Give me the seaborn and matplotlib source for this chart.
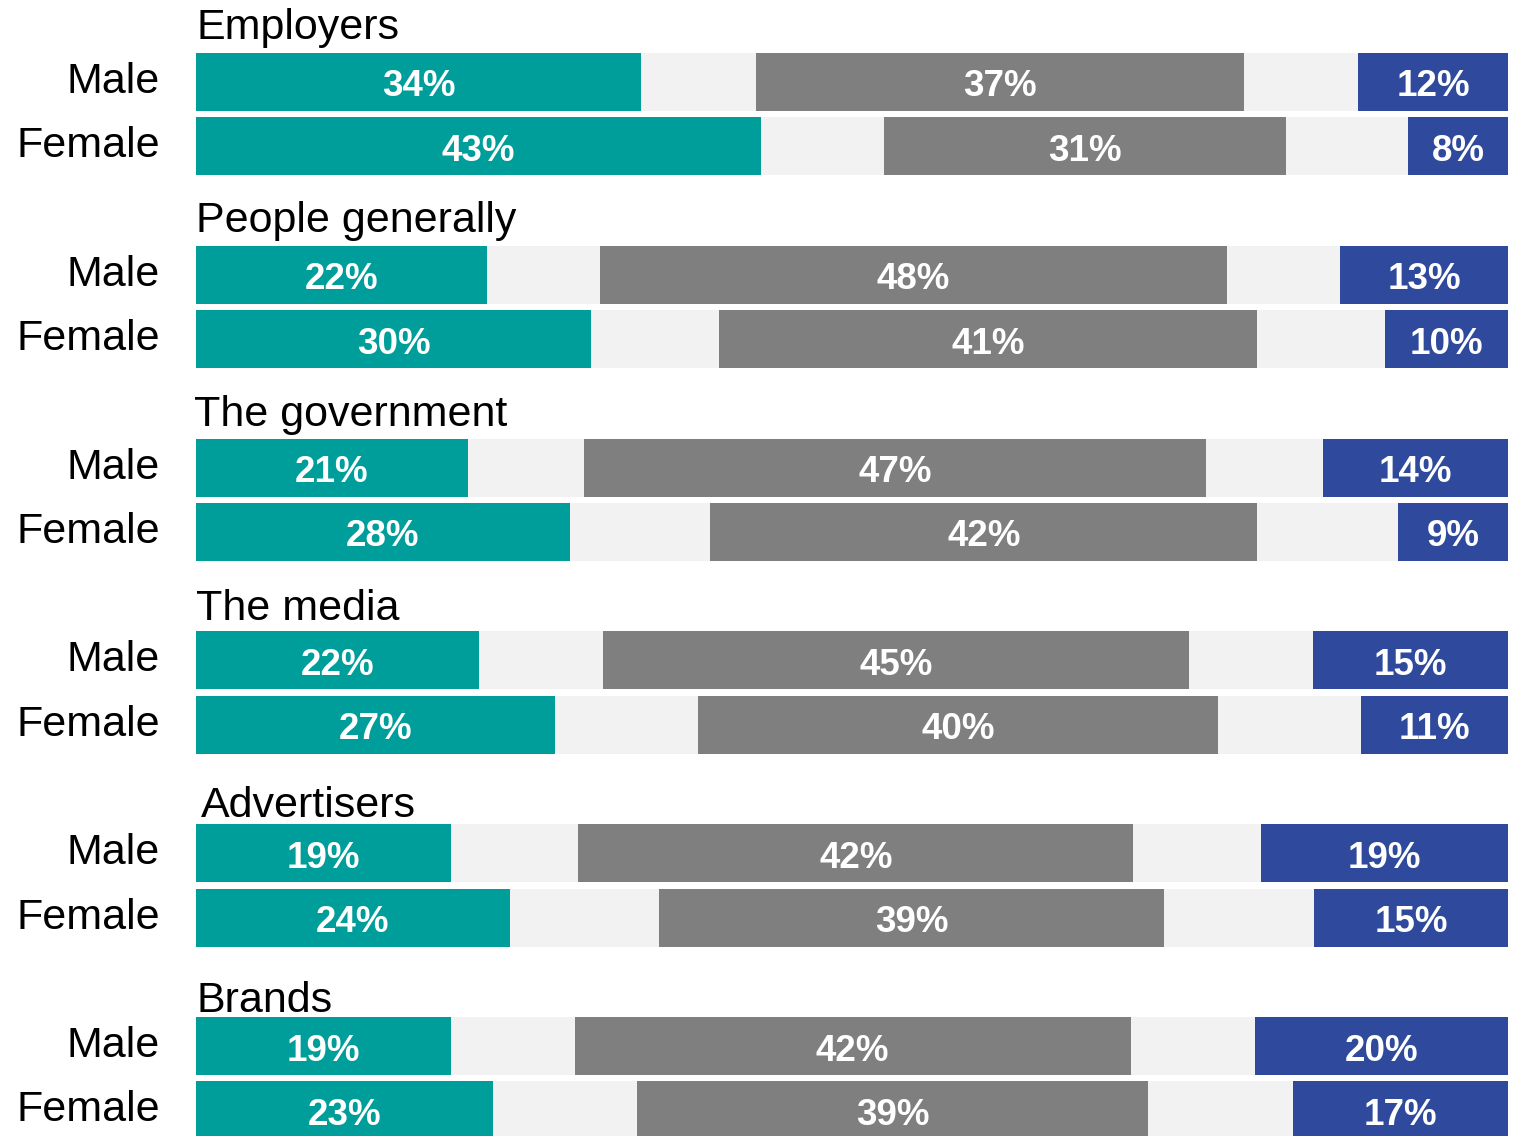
import numpy as np
import pandas as pd
import matplotlib
matplotlib.use("Agg")
import matplotlib.pyplot as plt
import seaborn as sns

# Data (share of respondents, %)
groups = ["Employers", "People generally", "The government",
          "The media", "Advertisers", "Brands"]
genders = ["Male", "Female"]

# segment widths per row (Male, Female for each group in turn)
positive = [33.9, 43.1, 22.2, 30.1, 20.7, 28.5, 21.6, 27.4, 19.4, 23.9, 19.4, 22.6]
neutral = [17.5, 18.7, 17.2, 19.5, 17.8, 21.4, 18.8, 21.8, 19.5, 22.8, 18.9, 22.1]
negative = [37.2, 30.6, 47.8, 41.0, 47.4, 41.7, 44.7, 39.6, 42.3, 38.5, 42.4, 38.9]
other = [11.4, 7.6, 12.8, 9.4, 14.1, 8.4, 14.9, 11.2, 18.8, 14.8, 19.3, 16.4]

# printed labels
positive_lbl = [34, 43, 22, 30, 21, 28, 22, 27, 19, 24, 19, 23]
negative_lbl = [37, 31, 48, 41, 47, 42, 45, 40, 42, 39, 42, 39]
other_lbl = [12, 8, 13, 10, 14, 9, 15, 11, 19, 15, 20, 17]

TEAL = "#009E9A"
LIGHT = "#F2F2F2"
GREY = "#7F7F7F"
BLUE = "#2F4A9C"

sns.set_style("white")
plt.rcParams["font.family"] = ["Liberation Sans", "DejaVu Sans"]
plt.rcParams["text.color"] = "black"

# build table: each group = title row + Male + Female
rows = []
for g, grp in enumerate(groups):
    for k, gen in enumerate(genders):
        i = 2 * g + k
        rows.append({"group": grp, "gender": gen, "pos": 3 * g + 1 + k,
                     "positive": positive[i], "neutral": neutral[i],
                     "negative": negative[i], "other": other[i]})
df = pd.DataFrame(rows)

# cumulative ends of the five segments
df["e1"] = df["positive"]
df["e2"] = df["e1"] + df["neutral"] / 2
df["e3"] = df["e2"] + df["negative"]
df["e4"] = df["e3"] + df["neutral"] / 2
df["e5"] = df["e4"] + df["other"]

fig = plt.figure(figsize=(15.19, 11.36), dpi=100)
ax = fig.add_axes([196 / 1519, 0, 1312 / 1519, 1])

unit = 64.27      # px per y unit
px_x = 13.12      # px per x unit
bar_h = 0.9025
# draw longest first so shorter segments sit on top
for col, colour in [("e5", BLUE), ("e4", LIGHT), ("e3", GREY),
                    ("e2", LIGHT), ("e1", TEAL)]:
    sns.barplot(data=df, x=col, y="pos", orient="h", native_scale=True,
                color=colour, saturation=1, width=bar_h, linewidth=0,
                errorbar=None, ax=ax)

# value labels in the coloured segments
lbl_font = dict(color="white", fontsize=26.5, fontweight="bold",
                ha="center", va="baseline")
for i, r in df.iterrows():
    y = r["pos"] + 14.5 / unit
    ax.text(r["e1"] / 2, y, f"{positive_lbl[i]}%", **lbl_font)
    ax.text((r["e2"] + r["e3"]) / 2, y, f"{negative_lbl[i]}%", **lbl_font)
    ax.text((r["e4"] + r["e5"]) / 2, y, f"{other_lbl[i]}%", **lbl_font)

# Male / Female row labels
for i, r in df.iterrows():
    ax.text(-36 / px_x, r["pos"] + 11 / unit, r["gender"], fontsize=31,
            ha="right", va="baseline", color="black")

# group titles (small nudges, in px, to follow the original layout)
title_dy = [0, 0, 1, 3, 7, 9]
title_dx = [0, 0, -2, 0, 5, 0]
for g, grp in enumerate(groups):
    y = 3 * g + 1 - (43 - title_dy[g]) / unit
    ax.text(title_dx[g] / px_x, y, grp, fontsize=31, ha="left",
            va="baseline", color="black")

ax.set_xlim(0, 100)
ax.set_ylim(1 + (1136 - 82) / unit, 1 - 82 / unit)
ax.set_yticks([])
ax.set_xticks([])
ax.set_xlabel("")
ax.set_ylabel("")
for s in ax.spines.values():
    s.set_visible(False)

fig.savefig("out.png", dpi=100)
